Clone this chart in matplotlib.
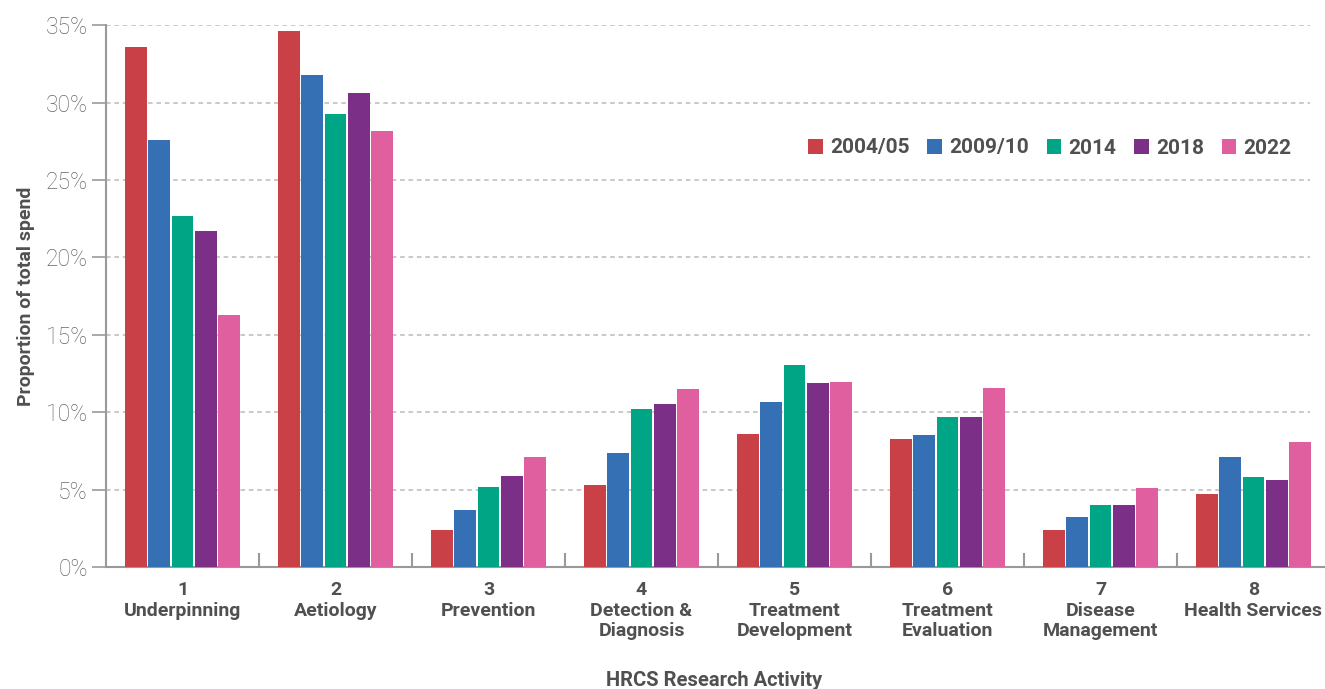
import numpy as np
import matplotlib
matplotlib.use("Agg")
import matplotlib.pyplot as plt
from matplotlib.patches import Patch

# ==========================================
# DADOS
# ==========================================
categorias = ["1\nUnderpinning", "2\nAetiology", "3\nPrevention", "4\nDetection &\nDiagnosis",
              "5\nTreatment\nDevelopment", "6\nTreatment\nEvaluation", "7\nDisease\nManagement",
              "8\nHealth Services"]
anos = ["2004/05", "2009/10", "2014", "2018", "2022"]

v2004 = [33.6, 34.6, 2.4, 5.3, 8.6, 8.3, 2.4, 4.7]
v2009 = [27.6, 31.8, 3.7, 7.35, 10.65, 8.5, 3.2, 7.1]
v2014 = [22.7, 29.3, 5.15, 10.2, 13.05, 9.7, 4.0, 5.8]
v2018 = [21.7, 30.65, 5.85, 10.5, 11.9, 9.7, 4.0, 5.6]
v2022 = [16.25, 28.2, 7.1, 11.5, 11.95, 11.55, 5.1, 8.1]

series = [v2004, v2009, v2014, v2018, v2022]
cores = ["#C94147", "#3570B5", "#00A585", "#7B2F86", "#E0609F"]

texto = "#505050"
plt.rcParams['font.family'] = ['Roboto', 'DejaVu Sans']

fig = plt.figure(figsize=(13.25, 6.89), dpi=100)
ax = fig.add_axes([106 / 1325, 1 - 567 / 689, 1219 / 1325, (567 - 25.3) / 689])

x = np.arange(len(categorias))
passo = 0.152
largura = 0.143
for i, (vals, cor) in enumerate(zip(series, cores)):
    ax.bar(x + (i - 2) * passo, vals, width=largura, color=cor, label=anos[i], zorder=3)

ax.set_xlim(-0.5, -0.5 + 1219 / 153)
ax.set_ylim(0, 35)

yt = np.arange(0, 36, 5)
ax.set_yticks(yt)
ax.set_yticklabels([f"{v}%" for v in yt], fontsize=16.5, color="#666666", fontweight="light")
ax.tick_params(axis="y", direction="out", length=10, width=1.2, color="#999999", pad=3)
for v in yt[1:]:
    ax.axhline(v, xmin=0, xmax=(1310 - 106) / 1219, color="#bbbbbb", linestyle=(0, (3, 2.5)),
               linewidth=1.1, zorder=1)

ax.set_xticks(x)
ax.set_xticklabels(categorias, fontsize=14, fontweight="bold", color=texto, linespacing=1.2,
                   va="top")
ax.tick_params(axis="x", which="major", length=0, pad=10)
ax.set_xticks(x[:-1] + 0.5, minor=True)
ax.tick_params(axis="x", which="minor", direction="in", length=10, width=1.5, color="#999999")

for s in ["top", "right"]:
    ax.spines[s].set_visible(False)
for s in ["left", "bottom"]:
    ax.spines[s].set_color("#999999")
    ax.spines[s].set_linewidth(1.5)

ax.set_ylabel("Proportion of total spend", fontsize=14, fontweight="bold", color=texto,
              labelpad=8)
fig.text(714 / 1325, 1 - 680 / 689, "HRCS Research Activity", fontsize=14.5, fontweight="bold",
         color=texto, ha="center", va="center")

handles = [Patch(facecolor=c, edgecolor="none") for c in cores]
leg = fig.legend(handles, anos, loc="center", bbox_to_anchor=(1050 / 1325, 1 - 148 / 689),
                 ncol=5, frameon=False, handlelength=0.7, handleheight=0.7,
                 handletextpad=0.35, columnspacing=0.85,
                 prop={"size": 15, "weight": "bold"})
for t in leg.get_texts():
    t.set_color(texto)

fig.savefig("out.png", dpi=100)
